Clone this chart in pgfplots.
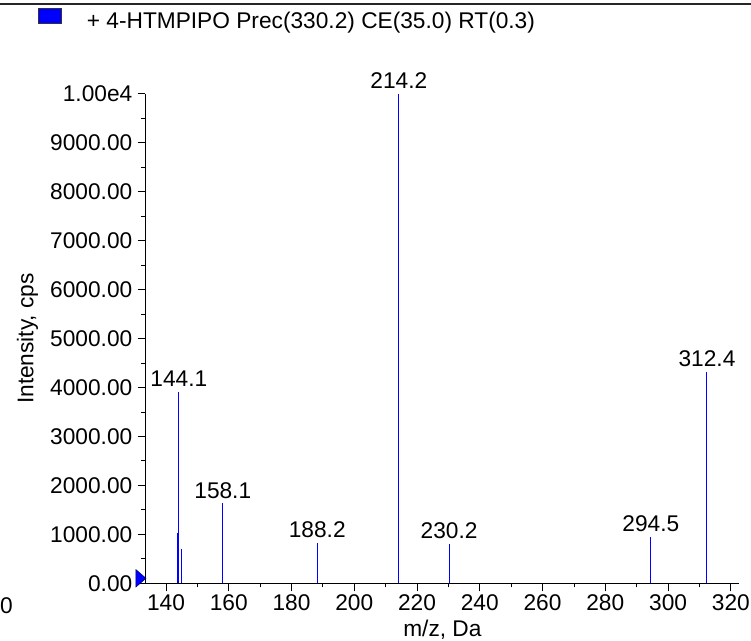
\documentclass[border=0pt]{standalone}
\usepackage{fontspec}
\setmainfont{Liberation Sans}
\usepackage{pgfplots}
\pgfplotsset{compat=1.18}
\newcommand{\ff}{\fontsize{22.7bp}{27bp}\selectfont}
\begin{document}
\begin{tikzpicture}
\begin{axis}[
  at={(145.5bp,57.7bp)}, anchor=south west,
  scale only axis, width=593.8bp, height=489.6bp,
  xmin=133.47, xmax=322.7, ymin=0, ymax=10000,
  axis lines*=left,
  axis line style={line width=0.8bp, black},
  tick align=outside,
  major tick length=8bp, minor tick length=4bp,
  every tick/.style={black, line width=0.8bp},
  xtick={140,160,...,320}, minor x tick num=1,
  ytick={0,1000,...,10000}, minor y tick num=1,
  scaled y ticks=false, scaled x ticks=false,
  yticklabels={0.00,1000.00,2000.00,3000.00,4000.00,5000.00,6000.00,7000.00,8000.00,9000.00,1.00e4},
  /pgf/number format/assume math mode=true,
  tick label style={font=\ff},
  xticklabel style={inner ysep=3.5bp},
  yticklabel style={inner xsep=5bp},
  xlabel={m/z, Da}, ylabel={Intensity, cps},
  label style={font=\ff},
  xlabel style={at={(axis description cs:0.5,-0.094)}, anchor=center},
  ylabel style={at={(axis description cs:-0.1987,0.5)}, anchor=center},
  clip=false,
]
\addplot[ycomb, blue, line width=1bp, mark=none, nodes near coords, point meta=explicit symbolic,
  every node near coord/.style={font=\ff, anchor=south, inner sep=0pt, yshift=4.5bp, black}]
  coordinates {(144.1,3916)[144.1] (158.1,1635)[158.1] (188.2,830)[188.2] (214.2,10000)[214.2]
               (230.2,809)[230.2] (294.5,952)[294.5] (312.4,4318)[312.4]};
\addplot[ycomb, blue, line width=1bp, mark=none] coordinates {(143.6,1022) (145.1,701)};
\addplot[only marks, mark=triangle*, mark size=10bp,
  mark options={fill=blue, draw=black!60!blue, line width=0.5bp, rotate=-90, yscale=0.667}]
  coordinates {(131.5,102)};
\end{axis}
\draw[line width=1.2bp, black!85] (0,637bp) -- (751bp,637bp);
\draw[fill=blue, draw=black!80, line width=0.6bp] (38.3bp,617.7bp) rectangle (61.7bp,632.7bp);
\node[anchor=base west, inner sep=0pt, font=\ff] at (86.7bp,612.7bp) {+ 4-HTMPIPO Prec(330.2) CE(35.0) RT(0.3)};
\node[anchor=base west, inner sep=0pt, font=\ff] at (0bp,27.5bp) {0};
\pgfresetboundingbox
\path[use as bounding box] (0,0) rectangle (751bp,641bp);
\end{tikzpicture}
\end{document}
